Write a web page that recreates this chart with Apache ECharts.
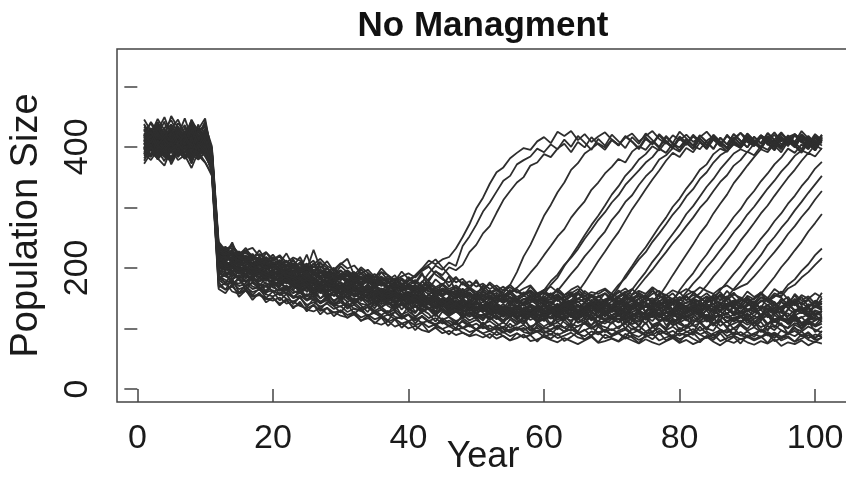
<!DOCTYPE html>
<html><head><meta charset="utf-8">
<script src="https://cdn.jsdelivr.net/npm/echarts@6/dist/echarts.min.js"></script>
<style>html,body{margin:0;padding:0;background:#fff}#c{width:846px;height:478px}</style>
</head><body><div id="c"></div>
<script>
// Year index 1..101 (x positions of every simulated trajectory)
const years = Array.from({length: 101}, (_, i) => i + 1);
const xTicks = [0, 20, 40, 60, 80, 100];
const yTicks = [0, 100, 200, 300, 400, 500];
const yLabels = [0, 200, 400];
const titleText = 'No Managment';
const xName = 'Year';
const yName = 'Population Size';

// Trajectories that stay low
const low01 = [418,431,409,425,437,414,422,440,428,433,395,238,231,236,224,229,233,219,226,214,221,209,217,212,200,206,215,203,197,208,199,204,191,197,185,193,188,180,186,191,184,195,202,189,181,176,185,172,178,169,174,165,171,162,168,159,166,171,158,163,169,160,155,164,170,158,152,161,166,157,151,159,165,154,148,157,162,150,158,146,155,161,149,144,153,160,147,156,151,142,150,157,145,152,161,148,143,155,149,158,151];
const low02 = [389,378,395,384,376,392,381,387,379,391,362,168,175,161,157,166,152,155,148,150,141,146,136,139,131,128,134,124,127,121,118,123,113,117,110,106,112,103,108,100,104,97,94,101,92,96,89,93,87,90,85,91,83,88,80,84,90,79,82,86,81,77,84,79,74,80,86,76,79,83,78,85,80,75,82,77,73,79,84,76,81,74,79,86,78,72,80,76,83,77,73,79,75,82,71,77,74,80,72,78,75];
const low03 = [420,411,426,403,415,432,408,419,412,424,381,226,217,222,213,219,208,214,204,209,198,206,201,193,199,189,194,185,192,183,188,179,184,176,181,172,169,177,166,173,168,164,171,159,166,162,155,163,158,152,160,153,149,157,151,146,154,148,143,151,147,153,144,141,149,155,143,138,146,152,144,139,148,153,141,136,145,150,139,147,152,143,137,146,151,140,135,144,149,141,136,145,150,139,144,137,148,142,134,146,140];
const low04 = [396,404,388,399,392,409,385,401,394,390,368,180,172,177,165,169,160,164,156,153,158,149,144,151,139,143,136,141,132,137,127,133,129,121,126,118,123,115,120,112,117,109,113,106,111,103,108,100,105,98,103,96,100,93,98,102,94,91,97,92,96,89,94,99,91,87,95,90,97,88,93,98,90,86,94,89,96,91,85,92,88,95,90,84,92,97,87,93,89,85,91,86,94,88,83,92,87,95,84,90,86];
const low05 = [405,418,399,411,423,407,414,401,419,410,376,214,203,209,198,204,192,197,188,194,186,191,181,187,176,182,173,179,169,175,166,171,163,168,158,164,155,161,153,158,150,156,147,153,144,150,141,146,139,144,137,143,134,140,132,138,129,135,131,126,133,127,138,130,125,134,128,136,124,131,127,135,122,129,137,126,132,120,128,134,125,131,123,137,129,121,133,127,124,130,135,122,128,133,126,120,131,125,136,123,129];
const low06 = [400,387,412,395,383,403,391,398,386,405,371,193,186,181,188,176,183,170,175,168,162,169,158,164,153,159,150,156,146,153,144,150,141,138,146,135,142,132,139,130,136,127,133,124,131,121,128,125,119,126,118,124,115,122,127,117,123,114,120,125,116,122,118,113,121,126,115,120,124,117,122,114,119,125,116,121,112,118,123,115,119,124,113,120,116,122,110,117,121,114,120,115,123,111,118,114,121,109,116,122,113];
const low07 = [427,413,436,419,408,431,416,425,405,420,384,221,214,225,209,216,204,211,200,207,199,205,194,201,190,208,186,193,182,189,180,187,176,183,172,179,169,175,166,172,163,170,160,167,157,162,154,160,151,157,149,155,146,152,143,150,141,147,139,145,142,137,146,140,135,143,138,132,141,136,133,140,145,134,139,130,137,143,131,138,135,129,141,136,130,139,133,127,138,132,128,137,131,126,135,140,129,134,127,136,130];
const low08 = [398,410,393,404,415,396,401,389,408,397,366,199,205,192,197,188,184,191,180,177,174,181,170,166,173,162,168,159,165,155,161,152,157,149,154,145,151,142,148,139,144,136,141,133,139,130,136,128,133,125,131,123,128,120,126,118,124,129,117,122,127,119,114,123,118,125,113,120,116,121,115,122,117,111,119,124,113,118,110,116,121,112,117,123,109,115,120,111,118,113,108,116,121,110,117,112,119,106,114,118,111];
const low09 = [433,421,446,428,415,439,424,436,419,442,392,233,228,219,225,214,221,209,216,206,213,202,208,197,204,212,193,199,189,196,186,193,182,189,178,184,175,181,172,178,186,197,205,214,201,188,176,182,170,176,166,173,162,169,158,165,155,162,152,159,150,157,147,154,160,149,145,153,158,146,151,157,144,149,155,142,150,156,143,148,154,141,147,152,140,146,153,139,145,151,138,144,150,137,145,152,139,143,148,136,142];
const low10 = [392,383,401,387,379,396,385,393,381,399,364,186,180,174,181,170,175,166,169,160,166,157,152,159,148,154,144,150,141,146,137,143,133,139,129,135,126,131,123,128,120,126,117,123,114,119,112,117,109,114,107,112,104,110,101,107,113,103,108,99,105,110,101,96,104,108,99,106,102,97,103,108,98,104,95,101,107,97,103,94,100,106,96,102,108,98,93,101,105,96,102,94,99,105,97,92,100,95,103,98,93];
const low11 = [411,402,417,396,408,421,399,413,404,416,373,204,211,199,194,201,190,195,186,183,189,178,184,174,170,177,166,172,163,168,159,164,156,161,152,158,149,154,146,151,142,148,139,145,136,142,133,139,131,136,128,134,126,131,123,129,121,127,124,119,125,130,120,126,117,123,129,119,124,115,121,127,118,123,116,129,120,114,122,126,117,123,128,115,121,119,126,113,120,124,116,122,127,114,120,125,112,118,123,115,119];
const low12 = [385,397,381,391,377,394,386,382,395,388,360,171,164,169,158,162,153,157,149,146,151,141,145,137,133,139,129,134,126,130,122,127,118,123,115,119,111,116,108,112,105,110,102,107,99,104,97,101,94,98,92,96,89,94,87,92,85,90,95,86,91,84,88,93,85,82,89,94,84,87,92,83,88,81,86,91,80,85,89,82,87,93,81,86,90,79,84,88,82,86,80,85,91,79,84,87,78,83,89,81,84];
const low13 = [415,428,410,422,406,433,417,411,426,414,380,218,212,216,205,210,201,206,197,202,193,199,189,195,185,191,181,187,178,184,175,181,172,177,168,174,165,171,162,168,159,165,156,163,153,160,150,157,147,154,145,151,142,149,140,146,137,143,148,139,144,136,141,147,138,133,142,137,145,134,140,146,135,131,139,144,133,138,143,132,137,142,131,136,141,130,139,134,128,137,143,132,138,129,136,141,130,135,127,139,133];
const low14 = [402,393,409,386,399,412,390,404,397,408,369,196,189,193,183,187,178,182,174,171,177,167,172,163,168,158,164,155,160,151,156,147,152,144,149,140,145,137,142,134,139,130,135,127,132,124,129,121,126,119,123,116,121,113,118,111,116,121,110,115,119,111,116,121,109,114,118,108,113,117,110,116,107,112,118,106,111,115,105,110,116,104,109,114,107,112,103,108,113,106,111,102,107,112,105,100,109,104,111,103,108];
const low15 = [409,421,403,414,398,425,411,406,419,403,378,209,203,208,197,201,193,197,189,185,182,188,178,183,174,179,169,175,166,171,162,168,159,164,155,161,152,158,149,155,146,152,143,149,140,146,138,143,135,141,133,139,130,136,128,134,126,131,137,127,132,126,130,136,125,121,129,134,123,128,133,122,127,132,120,126,131,119,125,130,121,127,132,118,124,129,117,123,128,120,126,131,118,124,129,116,122,127,119,125,121];
const low16 = [394,386,403,390,382,399,388,380,397,384,365,183,176,179,170,174,165,168,160,163,155,160,150,154,146,151,141,147,138,143,134,139,130,135,126,131,122,127,119,124,115,120,112,117,108,113,106,111,103,108,100,105,97,103,95,100,106,96,101,93,98,103,94,99,92,97,102,93,98,90,96,101,92,97,90,95,100,91,96,88,94,99,90,95,88,93,98,89,94,87,92,97,88,93,86,91,96,87,92,85,90];
const low17 = [436,422,441,417,430,445,420,434,412,438,389,229,235,222,227,217,223,212,218,208,204,210,199,206,195,201,210,190,197,187,193,183,190,180,186,177,183,174,180,171,177,168,174,165,171,162,168,159,165,156,162,153,159,150,157,148,154,160,146,152,158,145,151,156,143,149,155,142,148,153,140,147,152,139,145,150,137,144,149,136,143,148,135,142,147,134,141,146,133,140,145,132,139,144,131,138,143,130,137,142,135];
const low18 = [407,395,416,401,390,413,398,422,393,409,370,201,196,203,191,195,186,190,181,179,184,174,180,170,176,166,172,162,168,158,164,154,160,150,157,147,153,143,150,140,147,137,144,134,141,131,138,128,135,126,132,123,129,121,127,118,125,130,120,126,117,124,129,119,115,122,128,118,113,121,126,116,122,127,114,120,125,112,119,124,113,120,125,111,118,123,110,117,122,109,116,121,108,115,120,107,114,119,106,113,118];
const low19 = [412,397,426,405,431,392,418,409,437,401,388,216,201,212,190,207,199,183,196,181,192,176,188,171,185,179,163,177,160,172,158,174,155,168,150,166,161,148,163,145,158,141,155,150,137,152,139,149,133,147,131,145,138,126,143,132,141,127,139,130,124,138,129,142,121,134,127,140,119,133,137,122,131,143,126,118,135,129,141,120,128,139,117,132,126,140,123,135,119,130,138,121,134,127,116,131,142,125,133,120,129];
const low20 = [395,421,388,408,379,414,400,426,391,405,367,190,204,181,195,177,189,170,184,167,178,163,174,158,170,156,167,151,162,146,160,142,155,149,137,152,140,147,131,144,127,141,134,122,139,128,135,119,133,124,116,131,122,113,128,119,110,126,114,123,107,121,115,126,110,118,104,122,113,109,124,108,117,103,120,112,126,105,116,111,102,119,110,123,106,115,100,118,109,121,104,113,125,101,117,108,120,99,114,106,118];
const low21 = [430,405,418,442,399,425,413,436,407,421,392,224,210,231,205,219,198,215,201,192,206,189,201,184,198,176,193,187,171,189,175,190,168,181,173,159,177,165,171,154,168,157,172,151,163,155,149,166,143,158,148,139,156,142,151,135,149,140,133,146,137,150,131,144,139,126,148,134,141,129,145,132,138,150,127,141,135,147,130,143,136,124,146,133,140,128,151,137,125,142,131,147,138,126,144,133,149,129,140,135,145];
const low22 = [381,402,394,376,411,387,398,372,405,390,358,180,194,171,185,163,178,168,158,174,155,169,150,163,146,159,141,155,137,151,132,148,138,127,144,131,125,140,121,136,117,131,124,111,128,119,107,123,113,119,104,118,109,100,115,106,121,97,112,103,110,98,115,104,95,112,101,108,94,111,99,113,104,96,110,92,107,101,115,97,106,93,111,100,96,113,102,90,108,99,112,95,104,97,109,91,106,100,113,94,103];
const low23 = [438,414,427,449,420,433,408,445,424,416,398,236,222,242,214,229,220,206,225,211,219,203,214,197,222,191,208,200,186,203,192,181,198,186,175,193,179,188,170,185,176,192,165,181,171,186,160,177,167,156,171,159,166,152,164,148,160,151,157,143,158,146,153,141,157,149,137,154,143,150,139,155,147,136,152,142,158,140,148,137,153,144,132,150,139,156,145,135,151,142,137,152,146,133,149,140,155,138,147,134,150];
const low24 = [403,419,390,428,411,396,433,404,388,417,372,201,214,193,206,186,199,191,178,193,172,188,180,165,183,171,160,176,166,158,171,153,165,160,146,163,150,141,157,148,139,155,144,136,150,131,147,138,129,144,135,124,140,131,119,136,127,122,134,117,131,122,136,118,128,133,115,130,124,137,120,133,126,114,129,138,117,125,131,112,127,135,119,130,113,128,136,121,126,116,133,118,129,124,137,114,127,132,119,128,123];
const low25 = [421,399,437,409,426,393,415,440,402,428,383,219,200,213,223,197,208,192,205,186,200,183,195,178,190,185,169,187,172,165,181,166,174,160,177,155,170,163,151,168,150,164,143,159,152,138,156,145,140,153,137,149,141,133,147,129,144,136,128,142,133,126,145,130,139,121,137,143,128,134,141,125,136,130,146,124,133,139,122,137,129,142,126,135,120,140,131,124,138,127,134,121,139,130,126,143,128,135,123,138,131];
const low26 = [377,398,385,404,371,393,380,399,386,374,355,176,164,182,159,171,155,166,150,161,146,157,140,152,135,149,131,144,137,126,140,124,134,119,130,122,113,128,116,123,108,121,112,104,117,109,100,114,105,98,110,99,104,94,108,97,101,91,105,96,89,102,95,106,91,98,87,103,94,99,92,85,100,94,88,104,90,96,86,101,95,89,103,91,84,98,93,100,88,95,86,99,92,84,97,90,102,87,94,83,96];
const low27 = [417,441,425,410,436,419,447,415,431,409,393,230,216,226,211,221,203,218,208,199,212,196,207,190,203,194,183,200,188,179,194,183,176,190,171,185,176,165,181,170,161,178,166,157,173,160,168,152,165,155,149,163,152,145,158,147,140,155,144,151,141,154,146,137,150,143,156,139,147,134,151,142,136,149,155,138,146,133,150,141,135,148,142,131,147,153,137,144,132,149,140,134,151,143,129,146,138,152,136,144,139];
const low28 = [388,409,397,383,415,392,404,380,411,395,364,188,175,192,180,169,184,173,162,178,166,158,173,161,152,167,149,161,143,155,150,139,153,144,133,148,137,130,145,134,125,139,131,120,135,124,132,116,128,121,113,127,118,109,124,115,107,121,112,117,104,119,110,101,116,107,122,103,113,108,117,100,112,106,121,103,110,98,115,107,101,114,109,97,118,104,112,99,110,116,103,111,96,115,106,101,117,98,109,104,112];
const low29 = [445,426,439,418,451,431,412,442,425,436,401,243,229,238,221,233,215,229,212,222,208,224,203,218,197,230,199,211,194,206,215,188,201,192,183,199,187,178,194,182,173,189,178,195,184,169,183,174,165,180,162,176,167,158,172,161,154,169,156,164,150,166,155,160,147,162,153,144,158,149,163,151,145,159,152,166,143,155,148,160,146,158,152,141,156,147,162,150,139,154,148,160,143,155,151,138,157,146,153,141,159];
const low30 = [372,390,381,369,397,378,386,365,392,375,352,165,158,174,152,163,147,159,143,151,138,149,133,144,128,139,123,134,120,130,117,127,112,121,108,118,104,115,101,111,97,108,94,103,99,90,101,93,88,98,91,84,95,87,80,92,85,89,78,90,83,92,79,86,94,81,88,77,90,84,79,91,85,76,89,82,93,80,87,78,90,83,77,88,81,92,79,86,75,89,82,87,76,91,80,85,78,90,81,77,86];
const low31 = [408,426,392,415,403,430,397,419,386,412,379,209,196,215,201,190,205,194,186,198,181,194,176,188,170,184,175,163,180,168,159,174,161,153,168,157,149,164,146,160,152,141,157,146,138,153,142,134,149,139,144,131,140,135,126,143,130,137,124,139,128,136,122,141,130,125,138,119,134,127,132,118,136,129,124,140,121,133,127,116,138,125,131,117,135,128,122,139,126,131,120,134,127,140,118,132,125,137,121,130,126];
const low32 = [399,384,417,406,390,422,395,411,383,407,369,197,209,185,200,182,195,177,190,180,168,183,163,179,160,174,158,169,153,166,148,163,145,158,140,155,143,136,151,138,146,132,141,128,143,126,137,131,121,135,126,118,133,121,127,114,130,119,125,112,126,114,121,109,128,117,123,111,126,116,110,124,115,120,107,125,113,119,106,122,114,108,123,117,104,121,112,118,109,125,111,119,105,122,114,109,124,108,117,113,120];

// Trajectories that recover towards ~400
const rise01 = [425,439,418,431,444,422,436,413,429,447,386,231,224,229,219,225,213,218,209,214,206,212,201,209,197,203,193,200,189,195,187,193,183,190,179,186,176,183,173,180,188,199,212,206,214,218,232,251,272,298,316,339,358,366,381,390,398,395,409,416,406,425,418,426,411,421,408,417,424,412,403,415,422,409,418,426,413,405,419,411,420,408,416,425,412,404,418,410,423,414,407,419,412,424,409,416,421,411,418,406,415];
const rise02 = [416,404,428,411,397,421,408,432,400,418,380,224,217,221,210,215,205,211,201,206,198,204,193,200,189,195,185,192,181,188,179,186,175,182,171,178,168,175,164,171,166,176,191,204,197,209,203,236,252,271,293,308,326,344,352,371,378,384,397,391,404,396,412,400,418,407,395,413,402,420,409,398,416,405,422,411,400,418,406,425,414,402,419,408,396,415,404,421,410,399,417,406,423,412,400,419,408,426,414,403,420];
const rise03 = [403,417,395,409,426,400,414,391,420,406,375,217,212,218,206,211,201,207,197,203,194,200,190,197,186,192,182,189,178,185,176,183,172,179,168,175,165,172,161,168,163,170,182,194,188,201,196,205,226,238,257,269,291,312,327,341,350,369,374,388,383,397,405,391,408,399,416,404,395,411,402,417,408,396,413,404,419,407,398,414,405,420,409,397,415,403,418,408,400,416,404,419,410,399,417,406,421,411,402,418,409];
const rise04 = [398,412,387,405,419,394,408,383,415,401,371,210,203,208,197,202,193,198,188,194,186,192,181,188,177,183,173,180,169,176,168,174,164,171,160,166,157,163,154,160,151,157,148,155,145,152,142,149,155,146,153,160,150,164,172,193,219,238,262,286,304,325,341,362,373,389,397,406,399,412,403,418,409,398,416,405,421,410,400,417,408,396,414,403,420,409,399,416,405,422,411,400,418,407,396,415,404,421,410,399,417];
const rise05 = [419,406,431,414,401,425,410,437,405,421,383,219,226,212,220,214,203,211,208,196,203,199,190,197,194,183,191,188,176,185,182,174,181,177,168,175,171,163,170,166,158,167,162,153,161,157,149,158,154,146,155,150,143,152,160,167,178,192,205,221,236,252,264,283,297,310,329,341,356,367,380,374,392,401,395,409,398,416,405,394,412,401,419,408,397,415,404,421,410,399,416,405,422,411,400,418,407,396,414,403,420];
const rise06 = [410,398,423,405,393,416,402,427,396,412,377,210,218,214,201,209,205,196,203,190,197,193,185,191,179,188,184,172,180,175,168,176,171,162,170,165,158,166,161,154,162,156,150,159,153,145,154,149,142,150,146,139,148,143,152,147,141,158,150,163,178,189,205,217,231,248,263,279,292,308,320,337,349,361,374,383,397,390,405,399,413,402,396,410,418,405,399,414,423,408,401,416,409,420,404,413,419,407,415,410,418];
const rise07 = [394,408,385,401,414,390,405,379,411,397,367,199,207,203,191,198,195,183,190,187,178,186,181,172,179,175,166,173,169,161,168,164,156,162,159,150,157,153,146,152,149,141,148,144,136,143,140,132,139,136,130,138,134,127,135,132,141,148,139,156,172,184,203,219,236,254,271,286,303,321,335,352,364,379,388,401,394,409,397,414,403,417,408,396,412,401,420,407,398,415,406,419,403,412,424,409,400,417,405,421,411];
const rise08 = [421,409,433,415,403,428,411,438,404,424,385,221,215,223,210,217,212,203,209,206,197,204,199,192,198,195,186,192,188,181,187,183,175,182,178,170,176,173,165,171,168,160,167,163,155,162,158,151,157,153,146,153,149,142,150,146,139,152,158,147,155,162,176,190,203,219,232,247,260,279,292,309,320,337,351,362,379,386,398,392,406,397,413,402,418,408,396,415,404,421,410,399,417,406,423,412,401,419,408,397,414];
const rise09 = [407,395,419,402,390,413,399,426,393,410,374,214,209,203,211,198,205,199,192,189,193,185,189,180,184,176,181,171,175,168,172,164,168,159,163,157,161,152,157,150,153,146,150,141,147,139,144,136,141,134,139,132,136,128,134,126,131,135,129,133,141,148,138,146,160,176,193,211,227,244,259,278,297,313,330,346,361,377,390,383,398,391,407,399,414,403,392,410,401,418,407,396,414,403,421,410,399,416,405,394,412];
const rise10 = [413,426,401,418,432,407,421,396,429,411,379,215,222,211,207,216,204,200,198,193,190,198,187,183,192,180,176,185,174,170,179,168,164,173,162,158,167,156,153,161,150,147,156,145,141,150,139,136,145,134,131,140,129,126,136,125,134,138,128,137,131,139,135,144,130,141,137,146,142,158,172,183,199,214,226,243,257,272,288,301,318,330,347,358,374,386,393,404,398,411,402,416,405,394,413,401,419,408,397,415,406];
const rise11 = [389,402,380,396,408,385,399,376,405,392,364,197,193,190,186,189,181,178,182,174,171,177,168,164,170,161,167,158,155,161,152,158,149,146,153,143,149,141,138,145,136,142,133,139,130,127,135,126,132,124,121,128,125,119,127,122,118,126,132,122,129,119,127,134,124,131,138,128,143,152,168,187,203,220,234,251,268,283,301,314,331,345,362,371,388,397,392,406,399,414,403,418,407,396,415,404,421,410,399,417,408];
const rise12 = [416,403,428,410,398,422,407,433,401,418,381,226,220,214,219,209,213,204,201,207,196,193,200,188,185,192,181,178,186,174,171,179,168,165,173,162,159,167,156,153,161,150,147,156,145,142,151,140,137,146,136,133,142,131,139,135,129,140,134,138,133,141,128,137,145,132,140,136,144,139,147,141,156,170,184,197,212,226,241,254,269,283,299,311,327,342,353,369,378,392,386,401,395,409,398,414,403,392,410,401,417];
const rise13 = [400,414,392,407,420,396,411,388,417,403,372,201,209,196,192,200,189,186,193,181,178,185,174,171,179,167,164,172,161,158,165,154,162,151,148,157,145,153,142,139,147,136,144,133,141,130,138,127,135,125,132,122,129,127,119,126,124,131,121,128,126,134,129,138,124,133,141,130,137,145,139,150,164,179,193,210,224,241,256,271,289,302,318,334,347,363,376,389,396,391,405,398,413,402,391,409,400,416,405,394,412];
const rise14 = [423,410,436,418,405,429,414,441,408,426,387,232,226,220,227,216,222,211,214,207,211,202,206,197,201,193,198,188,193,184,190,181,186,177,182,174,179,170,175,167,172,164,169,160,166,157,163,154,160,151,157,148,154,146,151,143,149,145,152,142,149,156,145,153,160,147,155,151,158,146,154,161,150,157,148,162,153,170,188,205,222,239,257,271,290,306,321,340,354,369,383,396,391,405,397,412,401,390,408,399,415];
const rise15 = [396,409,388,403,417,392,406,383,413,399,369,200,196,203,191,188,195,183,180,187,175,181,172,169,176,164,171,160,166,157,163,154,160,151,157,148,155,145,151,143,149,140,146,137,143,135,141,132,138,129,135,126,132,124,130,121,128,125,131,122,127,134,123,131,138,126,133,129,137,132,128,136,141,130,138,133,142,136,131,146,160,174,186,201,214,229,243,259,272,288,301,316,331,344,359,371,385,394,389,403,396];
const rise16 = [412,399,424,407,394,418,403,429,397,415,378,217,210,206,213,201,198,204,192,195,188,194,185,182,189,178,175,183,171,168,176,165,162,170,159,156,164,153,150,158,147,155,144,152,141,149,138,146,135,143,132,140,129,137,126,134,131,124,133,128,135,129,138,132,127,136,141,131,139,134,142,136,131,140,135,143,138,149,144,163,178,191,208,222,239,253,268,284,297,314,327,343,356,371,382,397,390,404,396,411,402];
const rise17 = [405,418,397,411,424,400,415,392,421,407,374,208,201,206,196,203,191,195,189,184,188,179,185,175,181,171,177,167,173,164,170,160,166,157,163,153,159,150,156,146,152,143,149,140,146,137,143,134,141,131,137,128,134,126,133,124,131,122,129,126,131,124,133,128,122,130,136,127,134,129,136,126,133,139,128,135,130,138,132,140,133,149,158,171,186,199,214,228,245,259,274,290,303,319,334,349,362,377,390,384,398];
const rise18 = [419,407,431,413,401,425,409,435,403,421,384,229,222,227,216,212,219,207,211,203,206,198,203,193,199,190,195,185,190,183,186,178,183,174,180,171,176,168,173,165,169,161,166,158,164,155,161,152,158,150,155,147,153,145,150,142,148,151,144,149,143,151,146,140,149,144,152,147,141,150,145,153,148,142,151,146,154,149,143,152,147,155,150,158,148,163,176,190,203,219,232,248,261,277,290,306,319,335,348,364,375];
const rise19 = [391,404,383,398,411,387,401,378,408,394,366,190,186,193,181,178,184,173,170,176,165,171,162,158,166,154,161,150,157,147,153,143,150,139,146,136,143,133,140,130,137,127,134,124,131,121,128,119,125,116,123,114,121,112,119,110,117,121,113,118,120,126,115,123,129,118,125,121,128,117,124,130,119,127,122,131,120,128,125,133,126,134,129,137,131,140,151,165,178,193,207,221,238,251,266,279,295,309,324,338,352];
const rise20 = [428,415,440,422,409,433,418,444,412,430,390,236,229,233,222,227,217,223,213,218,210,204,212,200,207,196,203,193,200,190,196,187,193,183,190,180,186,177,183,174,180,171,177,168,174,165,171,162,168,160,165,157,163,155,161,152,158,163,155,160,156,163,151,158,165,153,160,157,164,152,159,166,155,162,157,168,160,155,163,158,165,159,168,162,157,166,171,163,169,174,186,199,213,226,240,256,269,284,297,313,327];
const rise21 = [399,386,411,394,381,405,390,416,384,402,370,204,198,201,192,196,187,191,183,186,180,186,175,181,171,177,167,173,163,170,160,166,157,163,153,160,150,156,147,153,143,150,140,146,137,143,134,140,131,137,128,135,125,132,122,129,127,124,131,126,128,121,130,124,119,127,133,125,131,122,129,124,132,127,121,130,126,134,128,135,130,137,133,140,135,143,139,146,141,151,142,157,171,185,201,214,229,243,260,274,289];
const rise22 = [411,424,403,417,430,406,420,398,427,413,379,213,219,208,204,211,199,196,202,190,194,187,184,191,180,177,184,173,170,177,166,172,163,160,167,156,153,160,150,147,154,144,141,148,138,135,142,132,139,136,130,137,127,134,131,126,133,129,136,131,138,131,140,134,129,137,143,133,141,136,144,138,133,142,136,145,140,135,143,148,141,150,144,153,147,156,151,159,146,161,152,159,150,165,157,172,181,195,206,221,232];
const rise23 = [387,400,379,394,407,383,397,374,404,390,362,182,188,177,174,180,169,166,172,161,158,164,153,150,157,146,143,150,139,136,143,132,129,136,125,122,129,119,116,123,113,119,110,107,114,104,111,101,108,98,105,95,102,99,93,100,97,103,94,101,98,105,101,108,103,110,106,113,108,115,111,118,113,120,116,123,118,126,121,128,124,131,127,135,129,138,133,142,137,146,141,151,146,158,153,166,172,184,193,205,216];

const trajectories = [
  low01, low02, low03, low04, low05, low06, low07, low08, low09, low10, low11, low12,
  low13, low14, low15, low16, low17, low18, low19, low20, low21, low22, low23, low24,
  low25, low26, low27, low28, low29, low30, low31, low32,
  rise01, rise02, rise03, rise04, rise05, rise06, rise07, rise08, rise09, rise10, rise11, rise12,
  rise13, rise14, rise15, rise16, rise17, rise18, rise19, rise20, rise21, rise22, rise23
];

const FONT = '"Liberation Sans", Arial, Helvetica, sans-serif';
const chart = echarts.init(document.getElementById('c'), null, {renderer: 'canvas'});
chart.setOption({
  animation: false,
  backgroundColor: '#ffffff',
  graphic: [{
    type: 'text', x: 483, y: 9, silent: true,
    style: {text: titleText, font: 'bold 35px ' + FONT, fill: '#111',
            align: 'center', textAlign: 'center', verticalAlign: 'top', textVerticalAlign: 'top'}
  }],
  grid: {left: 117, top: 49, right: -3, bottom: 76, show: true, outerBoundsMode: 'none', containLabel: false,
         borderColor: '#444', borderWidth: 1.5, backgroundColor: 'transparent'},
  xAxis: {
    type: 'value', min: -3, max: 105,
    axisLine: {show: false}, splitLine: {show: false},
    axisTick: {show: true, customValues: xTicks, length: 13, lineStyle: {color: '#444', width: 1.5}},
    axisLabel: {customValues: xTicks, fontSize: 34, color: '#1a1a1a', fontFamily: FONT, margin: 20},
    name: xName, nameLocation: 'middle', nameGap: 37, nameMoveOverlap: false,
    nameTextStyle: {fontSize: 36, color: '#1a1a1a', fontFamily: FONT}
  },
  yAxis: {
    type: 'value', min: -21.6, max: 561.6,
    axisLine: {show: false}, splitLine: {show: false},
    axisTick: {show: true, customValues: yTicks, length: 13, lineStyle: {color: '#444', width: 1.5}},
    axisLabel: {customValues: yLabels, rotate: 90, fontSize: 34, color: '#1a1a1a', fontFamily: FONT, margin: 22},
    name: yName, nameLocation: 'middle', nameRotate: 90, nameGap: 71, nameMoveOverlap: false,
    nameTextStyle: {fontSize: 38, color: '#1a1a1a', fontFamily: FONT}
  },
  series: trajectories.map(vals => ({
    type: 'line', silent: true, showSymbol: false, symbol: 'none',
    data: vals.map((v, i) => [years[i], v]),
    lineStyle: {color: '#2e2e2e', width: 1.8},
    emphasis: {disabled: true}
  }))
});
</script>
</body></html>
